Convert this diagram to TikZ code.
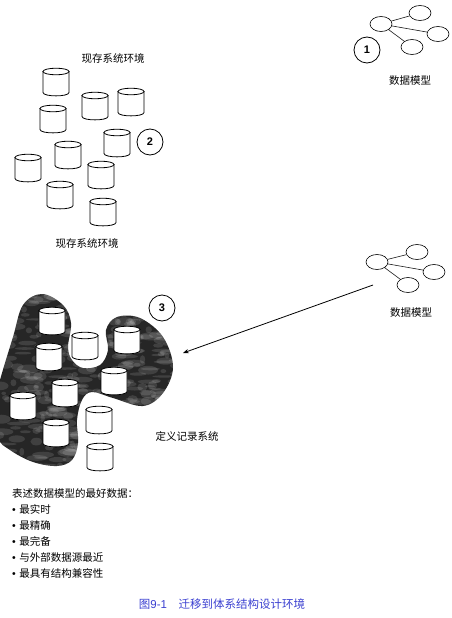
\documentclass[tikz,border=0pt]{standalone}
\usepackage{fontspec}
\setmainfont{Noto Sans CJK SC}
\newfontfamily\numfont{Liberation Sans}
\usepackage{xcolor}
\usetikzlibrary{positioning,arrows.meta,shapes.geometric}
\definecolor{capblue}{HTML}{3A3FD0}

\begin{document}
\begin{tikzpicture}[
  x=1pt, y=-1pt,
  font=\fontsize{10.5}{12}\selectfont,
  drum/.pic={
    \draw[thick, fill=white] (-13,-10.5) -- (-13,10.5) .. controls (-13,15) and (13,15) .. (13,10.5) -- (13,-10.5) -- cycle;
    \draw[thick, fill=white] (0,-10.5) ellipse (13 and 3.3);
  },
  ent/.style={draw, semithick, ellipse, inner sep=0pt, minimum width=22pt, minimum height=15pt},
  num/.style={draw, thick, circle, inner sep=0pt, minimum size=26pt, font=\numfont\bfseries\fontsize{11}{12}\selectfont},
  lnk/.style={semithick, black!90}
]
\useasboundingbox (0,0) rectangle (452,618);

% data model, top right
\node[ent] (topmain) at (381,24) {};
\node[ent] (topa) at (420,13) {};
\node[ent] (topb) at (438,34) {};
\node[ent] (topc) at (412,47) {};
\foreach \e in {topa,topb,topc}
  \draw[lnk] (topmain) -- (\e);
\node[num] (one) at (367,50) {1};
\node (toplabel) at (410,81) {数据模型};

% existing systems
\node (existtop) at (113,58) {现存系统环境};
\foreach \n/\p in {a/{56,82},b/{95,106},c/{131,102},d/{53,119},e/{117,143},f/{68,155},g/{28,168},h/{101,175},i/{60,195},j/{103,212}}
  \pic (old\n) at (\p) {drum};
\node[num] (two) at (150,142) {2};
\node (existbot) at (87,243) {现存系统环境};

% data model, middle right
\node[ent] (midmain) at (377,262) {};
\node[ent] (mida) at (417,252) {};
\node[ent] (midb) at (434,272) {};
\node[ent] (midc) at (408,285) {};
\foreach \e in {mida,midb,midc}
  \draw[lnk] (midmain) -- (\e);
\node (midlabel) at (411,313) {数据模型};

% system of record region
\begin{scope}
  \clip plot[smooth cycle, tension=0.6] coordinates {(42,294) (63,305) (71,323) (68,347) (72,360) (83,368) (100,365) (108,350) (106,330) (117,317) (140,318) (163,337) (173,367) (163,393) (143,406) (113,398) (92,392) (82,400) (77,420) (78,443) (72,460) (57,466) (33,462) (10,450) (-2,437) (-4,400) (0,380) (13,337) (23,305)};
  \fill[black!85] (-5,285) rectangle (180,470);
  \pgfmathsetseed{917}
  \foreach \i in {1,...,420}
    \fill[white, opacity=0.12] ({rnd*180},{288+rnd*182}) ellipse ({2+rnd*10} and {1+rnd*3.5});
\end{scope}
\foreach \n/\p in {a/{52,321},b/{85,346},c/{127,340},d/{49,357},e/{114,381},f/{65,393},g/{23,406},h/{56,433},i/{99,420},j/{100,457}}
  \pic (rec\n) at (\p) {drum};
\node[num] (three) at (162,308) {3};
\node (reclabel) at (187,436) {定义记录系统};

% arrow to the region
\coordinate (arrstart) at (373,285);
\coordinate (arrend) at (183,353);
\draw[-{Stealth[length=2mm]}, thick] (arrstart) -- (arrend);

% best data list
\node[anchor=north west, align=left, inner sep=0pt] (bestlist) at (12,488) {表述数据模型的最好数据：\\[4pt]
  {\numfont •}\hspace{3.5pt}最实时\\[4pt]
  {\numfont •}\hspace{3.5pt}最精确\\[4pt]
  {\numfont •}\hspace{3.5pt}最完备\\[4pt]
  {\numfont •}\hspace{3.5pt}与外部数据源最近\\[4pt]
  {\numfont •}\hspace{3.5pt}最具有结构兼容性};

\node[text=capblue, font=\fontsize{11.5}{12}\selectfont] (caption) at (222,604) {图{\numfont 9-1}\quad 迁移到体系结构设计环境};
\end{tikzpicture}
\end{document}
